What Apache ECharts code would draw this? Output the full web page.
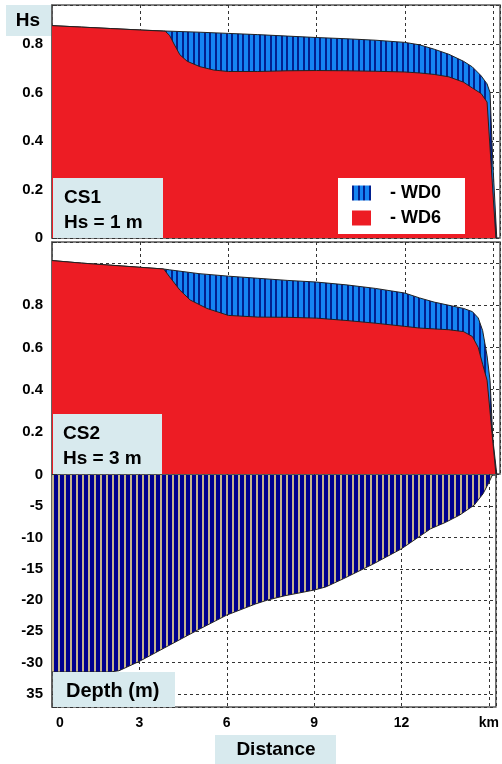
<!DOCTYPE html>
<html><head><meta charset="utf-8">
<script src="https://cdn.jsdelivr.net/npm/echarts/dist/echarts.min.js"></script>
<style>html,body{margin:0;padding:0;background:#fff}#c{width:502px;height:764px}</style>
</head><body><div id="c"></div>
<script>
// ---- data (km along transect) ----
const cs1Wd0Km = [0, 1, 2, 3, 3.8, 5, 6, 7, 8, 9, 10, 11, 12, 12.5, 13, 13.5, 14, 14.3, 14.6, 14.8, 14.9, 15.0, 15.13];
const cs1Wd0Hs = [0.875, 0.869, 0.863, 0.857, 0.853, 0.848, 0.843, 0.838, 0.832, 0.826, 0.821, 0.815, 0.806, 0.796, 0.778, 0.757, 0.728, 0.705, 0.668, 0.635, 0.6, 0.3, 0];
const cs1Wd6Km = [0, 1, 2, 3, 3.85, 4.0, 4.17, 4.35, 4.6, 5.03, 5.5, 6, 7, 8, 9, 10, 11, 12, 12.5, 13, 13.5, 14, 14.3, 14.6, 14.8, 15.1];
const cs1Wd6Hs = [0.875, 0.869, 0.863, 0.857, 0.852, 0.835, 0.795, 0.755, 0.728, 0.706, 0.692, 0.686, 0.686, 0.689, 0.69, 0.689, 0.687, 0.684, 0.68, 0.674, 0.664, 0.642, 0.618, 0.595, 0.56, 0];
const cs2Wd0Km = [0, 1, 2, 3, 3.8, 4, 5, 6, 7, 8, 9, 10, 11, 12, 12.5, 13, 13.5, 14, 14.3, 14.5, 14.65, 14.8, 14.9, 15.0, 15.13];
const cs2Wd0Hs = [1.012, 1.0, 0.99, 0.98, 0.972, 0.968, 0.95, 0.938, 0.928, 0.918, 0.91, 0.897, 0.88, 0.858, 0.835, 0.815, 0.8, 0.785, 0.77, 0.74, 0.68, 0.56, 0.445, 0.16, 0];
const cs2Wd6Km = [0, 1, 2, 3, 3.8, 4.0, 4.35, 4.7, 5.27, 6, 7, 8, 9, 10, 11, 12, 12.5, 13, 13.5, 14, 14.3, 14.5, 14.65, 14.8, 15.1];
const cs2Wd6Hs = [1.012, 1.0, 0.99, 0.98, 0.972, 0.935, 0.872, 0.825, 0.785, 0.752, 0.744, 0.743, 0.739, 0.728, 0.715, 0.7, 0.692, 0.688, 0.684, 0.675, 0.652, 0.6, 0.52, 0.445, 0];
const depthKm = [0, 1, 2, 2.3, 3, 4, 5, 6, 7, 7.4, 8, 9, 9.4, 10, 11, 12, 12.5, 13, 13.5, 14, 14.5, 14.8, 15.0, 15.12];
const depthM  = [31.5, 31.5, 31.5, 31.3, 29.8, 27.3, 24.8, 22.4, 20.6, 20.0, 19.3, 18.4, 17.9, 16.6, 14.3, 11.8, 10.2, 8.6, 7.6, 6.4, 4.8, 3.0, 1.2, 0];
const xTickLabels = {0: '0', 3: '3', 6: '6', 9: '9', 12: '12', 15: 'km'};
const hsTickLabels = {0: '0', 0.2: '0.2', 0.4: '0.4', 0.6: '0.6', 0.8: '0.8'};
const depthTickLabels = {0: '0', 5: '-5', 10: '-10', 15: '-15', 20: '-20', 25: '-25', 30: '-30', 35: '35'};

function pairs(xs, ys) { return xs.map((x, i) => [x, ys[i]]); }
function stripes(segs) {
  const w = segs.reduce((s, a) => s + a[1], 0);
  const cv = document.createElement('canvas');
  cv.width = w; cv.height = 8;
  const ctx = cv.getContext('2d');
  let x = 0;
  segs.forEach(([c, sw]) => { ctx.fillStyle = c; ctx.fillRect(x, 0, sw, 8); x += sw; });
  return cv;
}
const bluePat = { image: stripes([['#02208f', 2], ['#1585f2', 4], ['#02208f', 2], ['#1585f2', 3]]), repeat: 'repeat' };
const depthPat = { image: stripes([['#00008e', 4], ['#c4b48c', 2]]), repeat: 'repeat' };
const RED = '#ed1c24';
const FONT = '"Liberation Sans", Arial, sans-serif';

const chart = echarts.init(document.getElementById('c'), null, { renderer: 'canvas' });
const grids = [
  { left: 52, top: 5, width: 448, height: 233 },
  { left: 52, top: 242, width: 448, height: 232 },
  { left: 52, top: 475, width: 448, height: 232 }
].map(g => Object.assign(g, { show: true, borderColor: '#5a5a5a', borderWidth: 1.5, backgroundColor: '#fff' }));

const dashed = { show: true, lineStyle: { type: [3, 3], color: '#333', width: 1 } };
function xAx(i, showLabels) {
  return {
    type: 'value', gridIndex: i, min: 0, max: 15.24, interval: 3,
    axisLine: { show: showLabels, lineStyle: { color: '#5a5a5a', width: 1.5 } },
    axisTick: { show: showLabels, inside: true, length: 5, lineStyle: { color: '#333' } },
    splitLine: dashed,
    axisLabel: {
      show: showLabels, margin: 9, color: '#000', fontWeight: 'bold', fontSize: 14, fontFamily: FONT,
      formatter: v => { const k = Math.round(v * 100) / 100; if (xTickLabels[k] === undefined) return ''; return k === 0 ? '{z|0}' : xTickLabels[k]; },
      rich: { z: { padding: [0, 0, 0, 16], color: '#000', fontWeight: 'bold', fontSize: 14, fontFamily: FONT } }
    }
  };
}
function yAx(i, max, labels, extra) {
  return Object.assign({
    type: 'value', gridIndex: i, min: 0, max: max,
    axisLine: { show: true, lineStyle: { color: '#5a5a5a', width: 1.5 } },
    axisTick: { show: true, inside: true, length: 5, lineStyle: { color: '#333' } },
    splitLine: dashed,
    axisLabel: {
      margin: 9, color: '#000', fontWeight: 'bold', fontSize: 15, fontFamily: FONT,
      formatter: v => { const k = Math.round(v * 100) / 100; return labels[k] !== undefined ? labels[k] : ''; }
    }
  }, extra);
}
const hs2Labels = Object.assign({}, hsTickLabels); delete hs2Labels[0];

function area(name, xi, data, lineColor, fill, z) {
  return {
    name, type: 'line', xAxisIndex: xi, yAxisIndex: xi, data, showSymbol: false, symbol: 'none',
    lineStyle: { color: lineColor, width: 1 }, itemStyle: { color: fill },
    areaStyle: { color: fill, opacity: 1 }, z, silent: true
  };
}

const txt = (t, x, y, size, align) => ({
  type: 'text', x, y, z: 101,
  style: { text: t, font: 'bold ' + size + 'px ' + FONT, fill: '#000', verticalAlign: 'middle', align: align || 'left' }
});
const box = (x, y, w, h) => ({ type: 'rect', z: 100, shape: { x, y, width: w, height: h }, style: { fill: '#d8eaee' } });

chart.setOption({
  animation: false,
  grid: grids,
  xAxis: [xAx(0, false), xAx(1, false), xAx(2, true)],
  yAxis: [
    yAx(0, 0.96, hsTickLabels, { interval: 0.2 }),
    yAx(1, 1.1, hs2Labels, { interval: 0.2 }),
    yAx(2, 37.1, depthTickLabels, { interval: 5, inverse: true })
  ],
  legend: {
    left: 338, top: 178, orient: 'vertical', backgroundColor: '#fff', padding: [6, 24, 7, 14],
    itemWidth: 19, itemHeight: 15, itemGap: 7, icon: 'rect', selectedMode: false,
    textStyle: { fontWeight: 'bold', fontSize: 18, fontFamily: FONT, color: '#000', padding: [0, 0, 0, 14] },
    formatter: n => '- ' + n,
    data: [{ name: 'WD0', itemStyle: { color: bluePat, borderWidth: 0 } }, { name: 'WD6', itemStyle: { color: RED, borderWidth: 0 } }]
  },
  series: [
    area('WD0', 0, pairs(cs1Wd0Km, cs1Wd0Hs), '#222', bluePat, 2),
    area('WD6', 0, pairs(cs1Wd6Km, cs1Wd6Hs), '#222', RED, 3),
    area('WD0', 1, pairs(cs2Wd0Km, cs2Wd0Hs), '#222', bluePat, 2),
    area('WD6', 1, pairs(cs2Wd6Km, cs2Wd6Hs), '#222', RED, 3),
    area('Depth', 2, pairs(depthKm, depthM), '#222', depthPat, 2)
  ],
  graphic: [
    box(6, 5, 45, 31), txt('Hs', 28, 21, 19, 'center'),
    box(53, 178, 110, 60), txt('CS1', 64, 198, 19), txt('Hs = 1 m', 64, 223, 19),
    box(53, 414, 109, 60), txt('CS2', 63, 434, 19), txt('Hs = 3 m', 63, 459, 19),
    box(53, 672, 122, 35), txt('Depth (m)', 66, 691, 20),
    box(215, 735, 121, 29), txt('Distance', 276, 750, 19, 'center')
  ]
});
</script></body></html>
